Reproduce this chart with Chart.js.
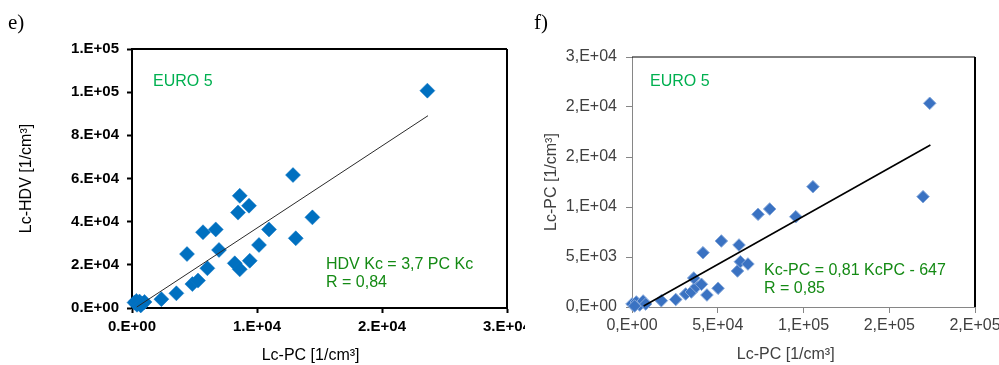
<!DOCTYPE html>
<html>
<head>
<meta charset="utf-8">
<script src="https://cdn.jsdelivr.net/npm/chart.js@4.4.1/dist/chart.umd.min.js"></script>
<style>
  html, body { margin: 0; padding: 0; background: #fff; }
  body { width: 999px; height: 365px; position: relative; overflow: hidden; }
  .box { position: absolute; top: 0; height: 365px; }
  #boxE { left: 0; width: 525px; }
  #boxF { left: 525px; width: 474px; }
</style>
</head>
<body>
<div class="box" id="boxE"><canvas id="chartE"></canvas></div>
<div class="box" id="boxF"><canvas id="chartF"></canvas></div>
<script>
// ---------- Panel e) data ----------
const ePcValues  = [200, 400, 600, 800, 1000, 350, 700, 2350, 3550, 4830, 5280, 6030, 4400, 5680, 6700, 6960, 8220, 8620, 9420, 10160, 10960, 8480, 9360, 8620, 12880, 13100, 14430, 23630];
const eHdvValues = [2500, 1500, 3000, 2000, 2800, 3300, 1200, 4100, 6800, 11100, 12700, 18400, 25000, 35100, 36400, 26900, 20700, 17900, 21900, 29200, 36400, 44200, 47400, 52000, 61600, 32300, 42000, 100700];
const eTrendX = [384, 23680];
const eTrendY = [460, 89100];
const eXTickLabels = ['0.E+00', '1.E+04', '2.E+04', '3.E+04'];
const eYTickLabels = ['0.E+00', '2.E+04', '4.E+04', '6.E+04', '8.E+04', '1.E+05', '1.E+05'];
const eXTitle = 'Lc-PC [1/cm\u00B3]';
const eYTitle = 'Lc-HDV [1/cm\u00B3]';
const ePanel = 'e)';
const eSeriesLabel = 'EURO 5';
const eEquation = 'HDV Kc = 3,7 PC Kc';
const eR = 'R = 0,84';

// ---------- Panel f) data ----------
const fPcValues  = [0, 2500, 4500, 6500, 8000, 1500, 17100, 25500, 31300, 34600, 37500, 40500, 36000, 43700, 50200, 41400, 52100, 62400, 61500, 63200, 67600, 73500, 80300, 95500, 105500, 169700, 173600];
const fKcValues  = [300, 500, 200, 600, 300, 100, 630, 750, 1300, 1500, 2030, 2270, 2900, 1200, 1870, 5430, 6600, 6200, 3600, 4530, 4300, 9270, 9800, 9030, 12030, 11030, 20370];
const fTrendX = [6800, 174000];
const fTrendY = [100, 16200];
const fXTickLabels = ['0,E+00', '5,E+04', '1,E+05', '2,E+05', '2,E+05'];
const fYTickLabels = ['0,E+00', '5,E+03', '1,E+04', '2,E+04', '2,E+04', '3,E+04'];
const fXTitle = 'Lc-PC [1/cm\u00B3]';
const fYTitle = 'Lc-PC [1/cm\u00B3]';
const fPanel = 'f)';
const fSeriesLabel = 'EURO 5';
const fEquation = 'Kc-PC = 0,81 KcPC - 647';
const fR = 'R = 0,85';

function pts(xs, ys) { return xs.map((x, i) => ({ x: x, y: ys[i] })); }

// plugin: frame (top/right border) + annotation texts
const framePlugin = {
  id: 'frame',
  beforeDatasetsDraw(chart, args, opts) {
    const a = chart.chartArea, ctx = chart.ctx;
    ctx.save();
    ctx.strokeStyle = '#000';
    ctx.lineWidth = opts.topWidth;
    ctx.beginPath();
    ctx.moveTo(a.left, a.top + opts.topShift);
    ctx.lineTo(a.right, a.top + opts.topShift);
    ctx.stroke();
    ctx.lineWidth = opts.rightWidth;
    ctx.beginPath();
    ctx.moveTo(a.right, a.top);
    ctx.lineTo(a.right, a.bottom);
    ctx.stroke();
    ctx.restore();
  },
  afterDraw(chart, args, opts) {
    const ctx = chart.ctx;
    ctx.save();
    (opts.texts || []).forEach(t => {
      ctx.font = t.font;
      ctx.fillStyle = t.color;
      ctx.textAlign = 'left';
      ctx.textBaseline = t.baseline || 'middle';
      ctx.fillText(t.text, t.x, t.y);
    });
    ctx.restore();
  }
};

const SANS = '"Liberation Sans", Arial, sans-serif';
const SERIF = '"Liberation Serif", "Times New Roman", serif';

// ---------- Chart e) ----------
new Chart(document.getElementById('chartE'), {
  type: 'scatter',
  data: {
    datasets: [
      {
        type: 'line',
        data: pts(eTrendX, eTrendY),
        borderColor: '#2a2a2a',
        borderWidth: 1,
        pointRadius: 0,
        fill: false,
        order: 0,
        clip: false
      },
      {
        data: pts(ePcValues, eHdvValues),
        pointStyle: 'rectRot',
        pointRadius: 7.5,
        pointBackgroundColor: '#0070C0',
        pointBorderColor: '#0a74c2',
        pointBorderWidth: 0.5,
        order: 1,
        clip: false
      }
    ]
  },
  options: {
    responsive: true,
    maintainAspectRatio: false,
    animation: false,
    events: [],
    layout: { padding: { top: 49, right: 18, left: 0, bottom: 0 } },
    plugins: {
      legend: { display: false },
      tooltip: { enabled: false },
      frame: {
        topWidth: 2, rightWidth: 2, topShift: 0,
        texts: [
          { text: ePanel, x: 8, y: 29, font: '21px ' + SERIF, color: '#000', baseline: 'alphabetic' },
          { text: eSeriesLabel, x: 153, y: 82, font: '16px ' + SANS, color: '#00B050' },
          { text: eEquation, x: 326, y: 265, font: '16px ' + SANS, color: '#148A14' },
          { text: eR, x: 326, y: 283, font: '16px ' + SANS, color: '#148A14' }
        ]
      }
    },
    scales: {
      x: {
        type: 'linear',
        min: 0, max: 30000,
        afterFit(s) { s.height = 57; s.paddingLeft = 0; s.paddingRight = 0; },
        ticks: {
          stepSize: 10000,
          padding: 5,
          color: '#000',
          font: { family: SANS, size: 15, weight: 'bold' },
          maxRotation: 0,
          callback: (v, i) => eXTickLabels[i]
        },
        grid: { drawOnChartArea: false, drawTicks: true, tickLength: 5, tickWidth: 2, tickColor: '#000' },
        border: { display: true, color: '#000', width: 2 },
        title: {
          display: true,
          text: eXTitle + '    ',
          color: '#000',
          font: { family: SANS, size: 16 },
          padding: { top: 0, bottom: 0 }
        }
      },
      y: {
        type: 'linear',
        min: 0, max: 120000,
        afterFit(s) { s.width = 132; s.paddingTop = 0; s.paddingBottom = 0; },
        ticks: {
          stepSize: 20000,
          padding: 8,
          color: '#000',
          font: { family: SANS, size: 15, weight: 'bold' },
          callback: (v, i) => eYTickLabels[i]
        },
        grid: { drawOnChartArea: false, drawTicks: true, tickLength: 5, tickWidth: 2, tickColor: '#000' },
        border: { display: true, color: '#000', width: 2 },
        title: {
          display: true,
          text: eYTitle,
          color: '#000',
          font: { family: SANS, size: 16 },
          padding: { top: 17, bottom: 0 }
        }
      }
    }
  },
  plugins: [framePlugin]
});

// ---------- Chart f) ----------
new Chart(document.getElementById('chartF'), {
  type: 'scatter',
  data: {
    datasets: [
      {
        type: 'line',
        data: pts(fTrendX, fTrendY),
        borderColor: '#000',
        borderWidth: 1.6,
        pointRadius: 0,
        fill: false,
        order: 0,
        clip: false
      },
      {
        data: pts(fPcValues, fKcValues),
        pointStyle: 'rectRot',
        pointRadius: 6.3,
        pointBackgroundColor: '#3A72C2',
        pointBorderColor: '#86A8DA',
        pointBorderWidth: 1,
        order: 1,
        clip: false
      }
    ]
  },
  options: {
    responsive: true,
    maintainAspectRatio: false,
    animation: false,
    events: [],
    layout: { padding: { top: 57, right: 24, left: 0, bottom: 0 } },
    plugins: {
      legend: { display: false },
      tooltip: { enabled: false },
      frame: {
        topWidth: 1, rightWidth: 2, topShift: 0,
        texts: [
          { text: fPanel, x: 9, y: 29, font: '21px ' + SERIF, color: '#000', baseline: 'alphabetic' },
          { text: fSeriesLabel, x: 125, y: 82, font: '16px ' + SANS, color: '#00B050' },
          { text: fEquation, x: 239, y: 271, font: '16px ' + SANS, color: '#148A14' },
          { text: fR, x: 239, y: 289, font: '16px ' + SANS, color: '#148A14' }
        ]
      }
    },
    scales: {
      x: {
        type: 'linear',
        min: 0, max: 200000,
        afterFit(s) { s.height = 58; s.paddingLeft = 0; s.paddingRight = 0; },
        ticks: {
          stepSize: 50000,
          padding: 3,
          color: '#404040',
          font: { family: SANS, size: 16 },
          maxRotation: 0,
          callback: (v, i) => fXTickLabels[i]
        },
        grid: { drawOnChartArea: false, drawTicks: true, tickLength: 6, tickWidth: 1, tickColor: '#868686' },
        border: { display: true, color: '#868686', width: 1 },
        title: {
          display: true,
          text: fXTitle + '        ',
          color: '#404040',
          font: { family: SANS, size: 16 },
          padding: { top: 0, bottom: 1 }
        }
      },
      y: {
        type: 'linear',
        min: 0, max: 25000,
        afterFit(s) { s.width = 107; s.paddingTop = 0; s.paddingBottom = 0; },
        ticks: {
          stepSize: 5000,
          padding: 9,
          color: '#404040',
          font: { family: SANS, size: 16 },
          callback: (v, i) => fYTickLabels[i]
        },
        grid: { drawOnChartArea: false, drawTicks: true, tickLength: 6, tickWidth: 1, tickColor: '#868686' },
        border: { display: true, color: '#868686', width: 1 },
        title: {
          display: true,
          text: fYTitle,
          color: '#404040',
          font: { family: SANS, size: 16 },
          padding: { top: 17, bottom: 0 }
        }
      }
    }
  },
  plugins: [framePlugin]
});
</script>
</body>
</html>
